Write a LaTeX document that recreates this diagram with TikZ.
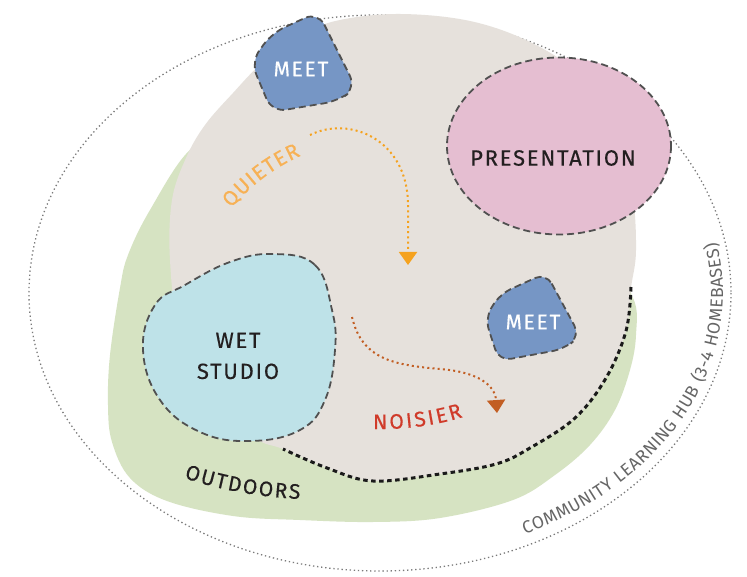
\documentclass[tikz,border=0pt]{standalone}
\usepackage{fontspec}
\setmainfont{Fira Sans}
\newfontfamily\lblfont[LetterSpace=8,FakeBold=0.4]{Fira Sans}
\newfontfamily\hubfont[LetterSpace=4]{Fira Sans}
\usetikzlibrary{arrows.meta,decorations.text}
\definecolor{beigec}{HTML}{E6E1DC}
\definecolor{greenc}{HTML}{D6E3C2}
\definecolor{wetc}{HTML}{BEE2E8}
\definecolor{presc}{HTML}{E5BED1}
\definecolor{meetc}{HTML}{7696C5}
\definecolor{dashc}{HTML}{505050}
\definecolor{darkc}{HTML}{231F20}
\definecolor{quietc}{HTML}{F7B155}
\definecolor{quietarr}{HTML}{F5A21E}
\definecolor{noisec}{HTML}{D03B2A}
\definecolor{noisearr}{HTML}{C25E23}
\definecolor{hubc}{HTML}{666666}
\definecolor{hubdot}{HTML}{7A7A7A}
\definecolor{edgec}{HTML}{1A1A1A}
\begin{document}
\begin{tikzpicture}[x=1pt,y=-1pt,
  zone/.style={draw=dashc,line width=1.8pt,dash pattern=on 7pt off 4pt},
  boundary/.style={draw=edgec,line width=3pt,dash pattern=on 4.5pt off 3.5pt},
  hubline/.style={draw=hubdot,line width=1.3pt,dash pattern=on 1.3pt off 2.8pt},
  flowline/.style={line width=2pt,dash pattern=on 2pt off 3.2pt,-{Triangle[width=18pt,length=13pt]}},
  lbl/.style={font=\lblfont\fontsize{22}{31}\selectfont,text=darkc,align=center,inner sep=0pt},
  meetlbl/.style={font=\lblfont\fontsize{21}{21}\selectfont,text=white,inner sep=0pt}
]
\useasboundingbox (0,0) rectangle (747,577);
\fill[white] (0,0) rectangle (747,577);

% outer hub boundary
\draw[hubline] (380,293) ellipse[x radius=351,y radius=278];

% outdoors (green)
\fill[greenc] plot[smooth cycle, tension=0.6] coordinates {(190,150) (150,210) (128,255) (120,288) (110,355) (108,405) (112,442) (130,478) (167,501) (233,516) (300,520) (373,522) (440,518) (513,500) (555,475) (590,445) (615,410) (630,370) (636,335) (633,298) (600,260) (450,200) (300,160) (230,140)};

% main space (beige)
\fill[beigec] plot[smooth cycle, tension=0.6] coordinates {(400,14) (470,21) (530,42) (580,75) (615,125) (632,190) (636,250) (631,288) (626,331) (606,378) (575,418) (530,448) (496,464) (440,474) (373,481) (327,468) (283,449) (255,438) (215,400) (180,330) (170,260) (172,200) (186,158) (205,125) (233,93) (262,63) (300,35) (340,20)};

% indoor/outdoor edge
\draw[boundary] plot[smooth, tension=0.6] coordinates {(631,287) (626,331) (606,378) (575,418) (530,448) (496,464) (440,474) (373,481) (327,468) (283,449)};

% wet studio
\filldraw[zone, fill=wetc] plot[smooth cycle, tension=0.7] coordinates {(273,254) (315,265) (332,310) (335,350) (325,400) (300,430) (250,441) (200,432) (160,400) (143,350) (155,305) (185,285) (230,262)};
\node[lbl] (wet) at (238,356) {WET\\STUDIO};

% presentation
\filldraw[zone, fill=presc] (559,146) ellipse[x radius=112, y radius=88.5];
\node[lbl] (pres) at (553,158) {PRESENTATION};

% meet spaces
\filldraw[zone, fill=meetc, rounded corners=14pt] (318,12) -- (356,88) -- (338,101) -- (272,112) -- (251,62) -- (272,33) -- cycle;
\node[meetlbl] (meet1) at (301,69) {MEET};
\filldraw[zone, fill=meetc, rounded corners=12pt] (546,273) -- (580,336) -- (564,349) -- (499,361) -- (485,318) -- (500,294) -- cycle;
\node[meetlbl] (meet2) at (533,322) {MEET};

% flows
\coordinate (qs) at (310,135);
\coordinate (qe) at (408,265);
\draw[flowline, draw=quietarr] (qs) .. controls (350,115) and (408,140) .. (408,205) -- (qe);
\coordinate (ns) at (352,317);
\coordinate (ne) at (497,413);
\draw[flowline, draw=noisearr] (ns) .. controls (362,360) and (395,365) .. (440,369) .. controls (478,372) and (495,385) .. (ne);

% curved labels
\path[decorate, decoration={text along path, text={|\lblfont\fontsize{21}{21}\selectfont\color{quietc}|QUIETER}, text align=fit to path}]
  ([shift={(-140:194)}]380,333) arc[start angle=-140, end angle=-114, radius=194];
\path[decorate, decoration={text along path, text={|\lblfont\fontsize{21}{21}\selectfont\color{noisec}|NOISIER}, text align=fit to path}]
  (373,429) .. controls (400,430) and (435,426) .. (463,417);
\path[decorate, decoration={text along path, text={|\lblfont\fontsize{21}{21}\selectfont\color{darkc}|OUTDOORS}, text align=fit to path}]
  (184,478) .. controls (220,490) and (258,497) .. (300,499);
\path[decorate, decoration={text along path, text={|\hubfont\fontsize{17.5}{17.5}\selectfont\color{hubc}|COMMUNITY LEARNING HUB (3-4 HOMEBASES)}, text align=fit to path}]
  (524.96,534.08) arc[start angle=65, end angle=-11, x radius=343, y radius=266];
\end{tikzpicture}
\end{document}
